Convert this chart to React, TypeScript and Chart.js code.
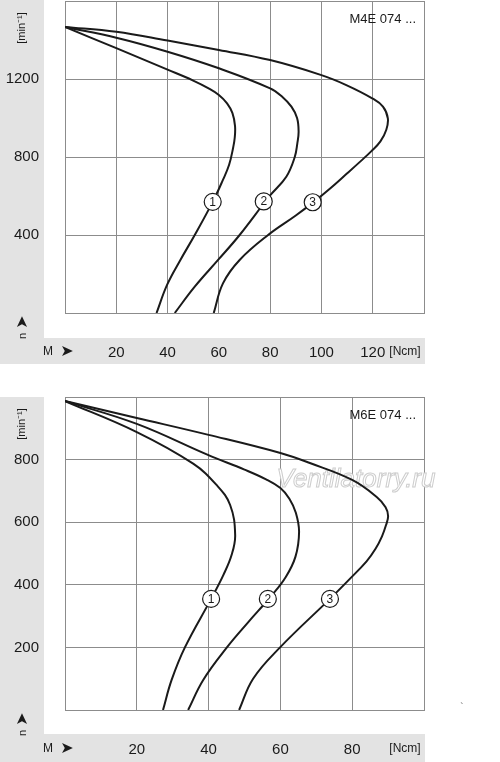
import React, { useEffect, useRef } from "react";
import { Chart, registerables } from "chart.js";

Chart.register(...registerables);

const FONT = '"Liberation Sans", Arial, Helvetica, sans-serif';
const BAND = "#e3e3e3";
const GRID = "#8c8c8c";
const INK = "#1a1a1a";

// ---------- M4E 074 ... (top chart) ----------
const m4eTitle = "M4E 074 ...";
const m4eXTicksMax = 140;
const m4eYMax = 1600;
const m4eYStep = 400;

const m4eTorque1 = [0, 20, 40, 50, 56, 60, 63.2, 65.3, 66.3, 66.2, 65.6, 64, 61.5, 57.6, 50.6, 45, 39.8, 35.7];
const m4eSpeed1 = [1467, 1358, 1248, 1192, 1152, 1118, 1075, 1025, 960, 900, 850, 760, 680, 570, 400, 272, 144, 0];

const m4eTorque2 = [0, 20, 40, 60, 80, 84.8, 88.3, 90.5, 91.1, 90.6, 89.6, 86.3, 79.8, 68.1, 59.7, 50.6, 42.8];
const m4eSpeed2 = [1467, 1412, 1340, 1255, 1152, 1108, 1058, 1000, 930, 870, 800, 699, 600, 400, 272, 135, 0];

const m4eTorque3 = [0, 20, 40, 60, 80, 100, 109.7, 119.8, 124, 125.9, 125.3, 123, 119.5, 115, 109.5, 103.5, 97.5, 90, 79.2, 68.1, 61.6, 58];
const m4eSpeed3 = [1467, 1442, 1397, 1349, 1297, 1220, 1169, 1101, 1058, 998, 940, 880, 830, 775, 710, 640, 575, 500, 400, 272, 152, 0];

const m4eLabelNames = ["1", "2", "3"];
const m4eLabelTorque = [57.6, 77.5, 96.6];
const m4eLabelSpeed = [570, 572, 568];

// ---------- M6E 074 ... (bottom chart) ----------
const m6eTitle = "M6E 074 ...";
const m6eXTicksMax = 100;
const m6eYMax = 1000;
const m6eYStep = 200;

const m6eTorque1 = [0, 20, 35.7, 42.2, 46, 47.4, 46.4, 44.1, 40.7, 33.4, 29.7, 27.3];
const m6eSpeed1 = [987, 888, 787, 719, 655, 559, 495, 431, 355, 200, 96, 0];

const m6eTorque2 = [0, 20, 39.8, 50, 56, 60, 62.5, 64.3, 65.2, 64.2, 61.5, 57.5, 51, 45.1, 38.5, 34.3];
const m6eSpeed2 = [987, 914, 815, 768, 737, 709, 675, 630, 569, 490, 425, 365, 280, 200, 96, 0];

const m6eTorque3 = [0, 20, 40, 60, 68.2, 80, 86.9, 89.3, 90, 89.4, 88.3, 86.5, 84, 79, 73.8, 59.9, 52.4, 48.5];
const m6eSpeed3 = [987, 933, 879, 821, 789, 735, 680, 648, 620, 590, 555, 515, 475, 415, 355, 200, 100, 0];

const m6eLabelNames = ["1", "2", "3"];
const m6eLabelTorque = [40.7, 56.5, 73.8];
const m6eLabelSpeed = [355, 355, 355];

const xUnit = "[Ncm]";
const yUnit = "[min\u207B\u00B9]";
const watermark = "Ventilatorry.ru";

type Panel = {
  height: number;
  padTop: number;
  xAxisH: number;
  leftBandTop: number;
  bottomBandY: number;
  bottomBandH: number;
  title: string;
  xMax: number;
  yMax: number;
  yStep: number;
  curves: { torque: number[]; speed: number[] }[];
  labels: { names: string[]; torque: number[]; speed: number[] };
  watermark?: boolean;
  stray?: boolean;
};

function buildChart(canvas: HTMLCanvasElement, p: Panel) {
  const datasets = p.curves.map((c) => ({
    data: c.torque.map((t, i) => ({ x: t, y: c.speed[i] })),
    showLine: true,
    borderColor: INK,
    borderWidth: 2,
    pointRadius: 0,
    pointHoverRadius: 0,
    tension: 0.4,
    fill: false,
  }));

  const decor = {
    id: "decor",
    beforeDraw(chart: any) {
      const ctx = chart.ctx;
      const a = chart.chartArea;
      ctx.save();
      ctx.fillStyle = "#ffffff";
      ctx.fillRect(0, 0, chart.width, chart.height);
      ctx.fillStyle = BAND;
      ctx.fillRect(0, p.leftBandTop, 44, p.bottomBandY + p.bottomBandH - p.leftBandTop);
      ctx.fillRect(0, p.bottomBandY, a.right + 1, p.bottomBandH);
      ctx.restore();
    },
    beforeDatasetsDraw(chart: any) {
      if (!p.watermark) return;
      const ctx = chart.ctx;
      ctx.save();
      ctx.font = `italic 26px ${FONT}`;
      ctx.textAlign = "center";
      ctx.textBaseline = "middle";
      ctx.fillStyle = "#ffffff";
      ctx.fillText(watermark, 356, 100);
      ctx.strokeStyle = "#cdcdcd";
      ctx.lineWidth = 1;
      ctx.strokeText(watermark, 356, 100);
      ctx.restore();
    },
    afterDatasetsDraw(chart: any) {
      const ctx = chart.ctx;
      const xs = chart.scales.x;
      const ys = chart.scales.y;
      ctx.save();
      p.labels.names.forEach((name, i) => {
        const cx = xs.getPixelForValue(p.labels.torque[i]);
        const cy = ys.getPixelForValue(p.labels.speed[i]);
        ctx.beginPath();
        ctx.arc(cx, cy, 8.5, 0, Math.PI * 2);
        ctx.fillStyle = "#ffffff";
        ctx.fill();
        ctx.lineWidth = 1.2;
        ctx.strokeStyle = INK;
        ctx.stroke();
        ctx.fillStyle = INK;
        ctx.font = `12px ${FONT}`;
        ctx.textAlign = "center";
        ctx.textBaseline = "middle";
        ctx.fillText(name, cx, cy + 0.5);
      });
      ctx.restore();
    },
    afterDraw(chart: any) {
      const ctx = chart.ctx;
      const a = chart.chartArea;
      ctx.save();
      ctx.fillStyle = INK;
      // title
      ctx.font = `13px ${FONT}`;
      ctx.textAlign = "right";
      ctx.textBaseline = "middle";
      ctx.fillText(p.title, a.right - 8, a.top + 18);
      // x unit
      ctx.font = `12px ${FONT}`;
      ctx.textAlign = "center";
      ctx.fillText(xUnit, 405, a.bottom + 39);
      // M and arrow
      ctx.font = `12px ${FONT}`;
      ctx.fillText("M", 48, a.bottom + 39);
      ctx.font = `16px "DejaVu Sans", sans-serif`;
      ctx.fillText("\u27A4", 67, a.bottom + 39);
      // y unit rotated
      ctx.save();
      ctx.translate(22, a.top + 27);
      ctx.rotate(-Math.PI / 2);
      ctx.font = `11px ${FONT}`;
      ctx.fillText(yUnit, 0, 0);
      ctx.restore();
      // n arrow rotated
      ctx.save();
      ctx.translate(23, a.bottom + 9);
      ctx.rotate(-Math.PI / 2);
      ctx.font = `16px "DejaVu Sans", sans-serif`;
      ctx.fillText("\u27A4", 0, 0);
      ctx.restore();
      ctx.save();
      ctx.translate(23, a.bottom + 23);
      ctx.rotate(-Math.PI / 2);
      ctx.font = `11px ${FONT}`;
      ctx.fillText("n", 0, 0);
      ctx.restore();
      if (p.stray) {
        ctx.font = `10px ${FONT}`;
        ctx.fillStyle = "#666";
        ctx.fillText("`", 462, 328);
      }
      ctx.restore();
    },
  };

  const tickFont = { family: FONT, size: 15 };
  const noPad = (s: any) => {
    s.paddingTop = 0;
    s.paddingBottom = 0;
    s.paddingLeft = 0;
    s.paddingRight = 0;
  };

  return new Chart(canvas, {
    type: "scatter",
    data: { datasets: datasets as any },
    options: {
      animation: false,
      responsive: false,
      events: [],
      layout: { padding: { left: 0, right: 76, top: p.padTop, bottom: 0 } },
      plugins: { legend: { display: false }, tooltip: { enabled: false } },
      scales: {
        x: {
          type: "linear",
          min: 0,
          max: p.xMax,
          ticks: {
            stepSize: 20,
            padding: 31,
            color: INK,
            font: tickFont,
            maxRotation: 0,
            autoSkip: false,
            callback: (v: any) => (v === 0 || v === p.xMax ? "" : String(v)),
          },
          grid: { color: GRID, lineWidth: 1, drawTicks: false },
          border: { color: GRID, width: 1 },
          afterFit: (s: any) => {
            s.height = p.xAxisH;
            noPad(s);
          },
        },
        y: {
          type: "linear",
          min: 0,
          max: p.yMax,
          ticks: {
            stepSize: p.yStep,
            padding: 26,
            color: INK,
            font: tickFont,
            autoSkip: false,
            callback: (v: any) => (v === 0 || v === p.yMax ? "" : String(v)),
          },
          grid: { color: GRID, lineWidth: 1, drawTicks: false },
          border: { color: GRID, width: 1 },
          afterFit: (s: any) => {
            s.width = 65;
            noPad(s);
          },
        },
      },
    },
    plugins: [decor as any],
  });
}

function PanelChart({ p, top }: { p: Panel; top: number }) {
  const ref = useRef<HTMLCanvasElement | null>(null);
  useEffect(() => {
    if (!ref.current) return;
    const c = buildChart(ref.current, p);
    return () => c.destroy();
  }, []);
  return (
    <canvas
      ref={ref}
      width={500}
      height={p.height}
      style={{ position: "absolute", left: 0, top, width: 500, height: p.height, display: "block" }}
    />
  );
}

const panelTop: Panel = {
  height: 370,
  padTop: 1,
  xAxisH: 57,
  leftBandTop: 0,
  bottomBandY: 338,
  bottomBandH: 26,
  title: m4eTitle,
  xMax: m4eXTicksMax,
  yMax: m4eYMax,
  yStep: m4eYStep,
  curves: [
    { torque: m4eTorque1, speed: m4eSpeed1 },
    { torque: m4eTorque2, speed: m4eSpeed2 },
    { torque: m4eTorque3, speed: m4eSpeed3 },
  ],
  labels: { names: m4eLabelNames, torque: m4eLabelTorque, speed: m4eLabelSpeed },
};

const panelBottom: Panel = {
  height: 382,
  padTop: 17,
  xAxisH: 52,
  leftBandTop: 17,
  bottomBandY: 354,
  bottomBandH: 28,
  title: m6eTitle,
  xMax: m6eXTicksMax,
  yMax: m6eYMax,
  yStep: m6eYStep,
  curves: [
    { torque: m6eTorque1, speed: m6eSpeed1 },
    { torque: m6eTorque2, speed: m6eSpeed2 },
    { torque: m6eTorque3, speed: m6eSpeed3 },
  ],
  labels: { names: m6eLabelNames, torque: m6eLabelTorque, speed: m6eLabelSpeed },
  watermark: true,
  stray: true,
};

export default function App() {
  return (
    <div style={{ position: "absolute", left: 0, top: 0, width: 500, height: 762, background: "#fff" }}>
      <PanelChart p={panelTop} top={0} />
      <PanelChart p={panelBottom} top={380} />
    </div>
  );
}
